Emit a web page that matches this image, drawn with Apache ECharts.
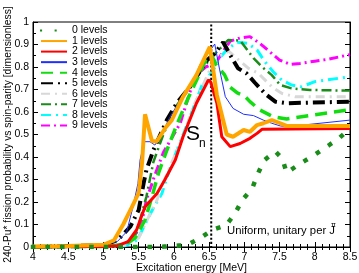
<!DOCTYPE html>
<html><head><meta charset="utf-8">
<script src="https://cdn.jsdelivr.net/npm/echarts@6/dist/echarts.min.js"></script>
<style>html,body{margin:0;padding:0;background:#fff}#c{width:359px;height:273px}</style>
</head><body><div id="c"></div>
<script>
const xTicks = [4, 4.5, 5, 5.5, 6, 6.5, 7, 7.5, 8, 8.5];
const yTicks = [0, 0.1, 0.2, 0.3, 0.4, 0.5, 0.6, 0.7, 0.8, 0.9, 1];
const names = ['0 levels','1 levels','2 levels','3 levels','4 levels','5 levels','6 levels','7 levels','8 levels','9 levels'];
const SN = 6.53;

const E0 = [4.0,4.9,5.12,5.32,5.53,5.74,5.97,6.19,6.385,6.545,6.74,6.87,6.97,7.11,7.19,7.28,7.44,7.54,7.60,7.78,7.97,8.15,8.33,8.5];
const P0 = [0,0,0,0,0,0,0.004,0.009,0.042,0.076,0.096,0.15,0.209,0.259,0.324,0.385,0.425,0.392,0.33,0.368,0.404,0.442,0.479,0.528];
const E1 = [4.0,4.5,5.0,5.15,5.28,5.4,5.5,5.55,5.59,5.69,5.76,5.88,5.97,6.13,6.32,6.51,6.61,6.75,6.84,6.99,7.08,7.18,7.27,7.39,7.51,7.6,8.5];
const P1 = [0.002,0.004,0.01,0.03,0.1,0.175,0.24,0.38,0.59,0.47,0.47,0.53,0.564,0.668,0.764,0.89,0.676,0.5,0.49,0.52,0.512,0.542,0.55,0.564,0.55,0.538,0.538];
const E2 = [4.0,5.0,5.2,5.35,5.47,5.59,5.76,5.87,6.02,6.13,6.32,6.49,6.52,6.61,6.68,6.8,6.94,7.08,7.18,7.25,8.5];
const P2 = [0,0.002,0.006,0.024,0.076,0.179,0.238,0.298,0.387,0.49,0.639,0.742,0.735,0.64,0.49,0.446,0.46,0.483,0.505,0.523,0.527];
const E3 = [4.0,5.0,5.2,5.33,5.42,5.49,5.52,5.58,5.66,5.73,5.83,5.92,6.1,6.28,6.37,6.58,6.65,6.73,6.84,6.99,7.13,7.27,7.39,7.51,7.62,8.5];
const P3 = [0.003,0.01,0.025,0.068,0.179,0.283,0.387,0.468,0.468,0.453,0.498,0.564,0.66,0.742,0.81,0.902,0.787,0.668,0.616,0.59,0.584,0.564,0.55,0.538,0.535,0.564];
const E4 = [4.0,5.0,5.3,5.45,5.59,5.69,5.78,5.9,6.05,6.2,6.35,6.45,6.53,6.6,6.72,6.8,6.9,7.0,7.08,7.22,7.41,7.6,7.98,8.5];
const P4 = [0,0.002,0.01,0.04,0.12,0.224,0.327,0.43,0.55,0.66,0.76,0.83,0.855,0.81,0.765,0.71,0.685,0.672,0.646,0.609,0.579,0.569,0.587,0.61];
const E5 = [4.0,5.0,5.2,5.38,5.5,5.57,5.61,5.71,5.9,6.04,6.23,6.47,6.58,6.7,6.8,6.91,7.03,7.15,7.3,7.44,7.6,8.5];
const P5 = [0,0.008,0.03,0.09,0.164,0.283,0.342,0.431,0.564,0.639,0.712,0.83,0.86,0.91,0.853,0.794,0.772,0.73,0.68,0.646,0.639,0.646];
const E6 = [4.0,5.0,5.3,5.5,5.62,5.75,5.83,5.95,6.1,6.3,6.5,6.65,6.78,6.89,7.06,7.2,7.39,7.53,7.72,8.5];
const P6 = [0,0.002,0.008,0.04,0.12,0.2,0.27,0.36,0.47,0.64,0.78,0.85,0.87,0.839,0.794,0.772,0.712,0.683,0.668,0.668];
const E7 = [4.0,5.0,5.3,5.45,5.52,5.61,5.71,5.85,6.02,6.2,6.4,6.55,6.65,6.77,6.94,7.13,7.25,7.39,7.51,7.67,7.93,8.5];
const P7 = [0,0.003,0.012,0.05,0.12,0.224,0.379,0.5,0.62,0.7,0.79,0.85,0.88,0.92,0.918,0.839,0.801,0.764,0.72,0.705,0.698,0.695];
const E8 = [4.0,5.0,5.3,5.48,5.62,5.72,5.83,5.92,5.99,6.23,6.4,6.56,6.65,6.77,6.9,7.05,7.18,7.29,7.41,7.53,7.67,7.81,8.0,8.5];
const P8 = [0,0.001,0.005,0.03,0.12,0.18,0.238,0.327,0.387,0.579,0.72,0.787,0.84,0.883,0.91,0.905,0.876,0.824,0.779,0.742,0.72,0.712,0.735,0.757];
const E9 = [4.0,5.0,5.3,5.45,5.55,5.61,5.73,5.85,6.09,6.3,6.45,6.6,6.7,6.8,6.95,7.08,7.22,7.36,7.5,7.65,7.79,8.0,8.2,8.5];
const P9 = [0,0.002,0.01,0.05,0.12,0.209,0.32,0.42,0.55,0.76,0.8,0.82,0.87,0.915,0.93,0.935,0.905,0.868,0.831,0.812,0.816,0.826,0.835,0.855];

const Es = [E0,E1,E2,E3,E4,E5,E6,E7,E8,E9];
const Ps = [P0,P1,P2,P3,P4,P5,P6,P7,P8,P9];
const styles = [
  {color:'#1a8c1a', width:4.5, type:[0.1,14.5], cap:'square'},
  {color:'#ffa500', width:4, type:'solid'},
  {color:'#ff0000', width:3, type:'solid'},
  {color:'#1f2fff', width:1, type:'solid'},
  {color:'#11dd11', width:3.5, type:[12,7]},
  {color:'#000000', width:4, type:[12,5,2,5]},
  {color:'#d8d8d8', width:3, type:[9,5,2,5]},
  {color:'#1a8c1a', width:2.5, type:[10,4,2,4]},
  {color:'#00ffff', width:3, type:[10,5,2,5]},
  {color:'#ff00ff', width:3, type:[9,4,2,4]}
];
const FONT = 'Liberation Sans, Arial, Helvetica, sans-serif';
const series = names.map((n,k)=>({
  name:n, type:'line', symbol:'none', showSymbol:false, z: 10 - k,
  lineStyle: Object.assign({}, styles[k]),
  itemStyle:{color:styles[k].color},
  data: Es[k].map((e,i)=>[e,Ps[k][i]]),
  animation:false
}));
series.push({
  name:'Sn', type:'line', symbol:'none', animation:false,
  lineStyle:{color:'#000', width:2, type:[0.1,4], cap:'square'},
  data:[[SN,0],[SN,1]]
});
const axisCommon = {
  axisLine:{lineStyle:{color:'#000',width:1}},
  axisTick:{inside:true,length:5,lineStyle:{color:'#000'}},
  splitLine:{show:false}
};
const xMinor = {minorTick:{show:true,splitNumber:5,length:3,lineStyle:{color:'#000'}}};
const yMinor = {minorTick:{show:true,splitNumber:2,length:3,lineStyle:{color:'#000'}}};
const chart = echarts.init(document.getElementById('c'), null, {renderer:'canvas'});
chart.setOption({
  animation:false,
  grid:{left:33,right:9,top:22,bottom:26,show:true,borderColor:'#000',borderWidth:1,containLabel:false,outerBoundsMode:'none'},
  legend:{
    data:names, orient:'vertical', left:35, top:20, itemWidth:26, itemHeight:9, itemGap:-0.45,
    itemStyle:{opacity:0},
    textStyle:{fontFamily:FONT,fontSize:10.5,color:'#000'},
    selectedMode:false
  },
  xAxis:[
    Object.assign({type:'value',min:xTicks[0],max:xTicks[xTicks.length-1],interval:0.5,
      name:'Excitation energy [MeV]',nameLocation:'middle',nameGap:16,nameMoveOverlap:false,
      nameTextStyle:{fontFamily:FONT,fontSize:10.5,color:'#000'},
      axisLabel:{fontFamily:FONT,fontSize:10.5,color:'#000',margin:5}}, axisCommon, xMinor),
    Object.assign({type:'value',position:'top',min:4,max:8.5,interval:0.5,axisLabel:{show:false}}, axisCommon, xMinor)
  ],
  yAxis:[
    Object.assign({type:'value',min:yTicks[0],max:yTicks[yTicks.length-1],interval:0.1,
      name:'240-Pu* fission probability vs spin-parity [dimensionless]',nameLocation:'middle',nameGap:20,nameRotate:90,nameMoveOverlap:false,
      nameTextStyle:{fontFamily:FONT,fontSize:10.3,color:'#000'},
      axisLabel:{fontFamily:FONT,fontSize:10.5,color:'#000',margin:4}}, axisCommon, yMinor),
    Object.assign({type:'value',position:'right',min:0,max:1,interval:0.1,axisLabel:{show:false}}, axisCommon, yMinor)
  ],
  graphic:[
    {type:'text',left:186,top:124,style:{text:'S',font:'21px '+FONT,fill:'#000'}},
    {type:'text',left:199,top:138,style:{text:'n',font:'12px '+FONT,fill:'#000'}},
    {type:'text',left:227,top:225,style:{text:'Uniform, unitary per J',font:'11.3px '+FONT,fill:'#000'}},
    {type:'text',left:331,top:222,style:{text:'π',font:'7px '+FONT,fill:'#000'}}
  ],
  series:series
});
</script></body></html>
